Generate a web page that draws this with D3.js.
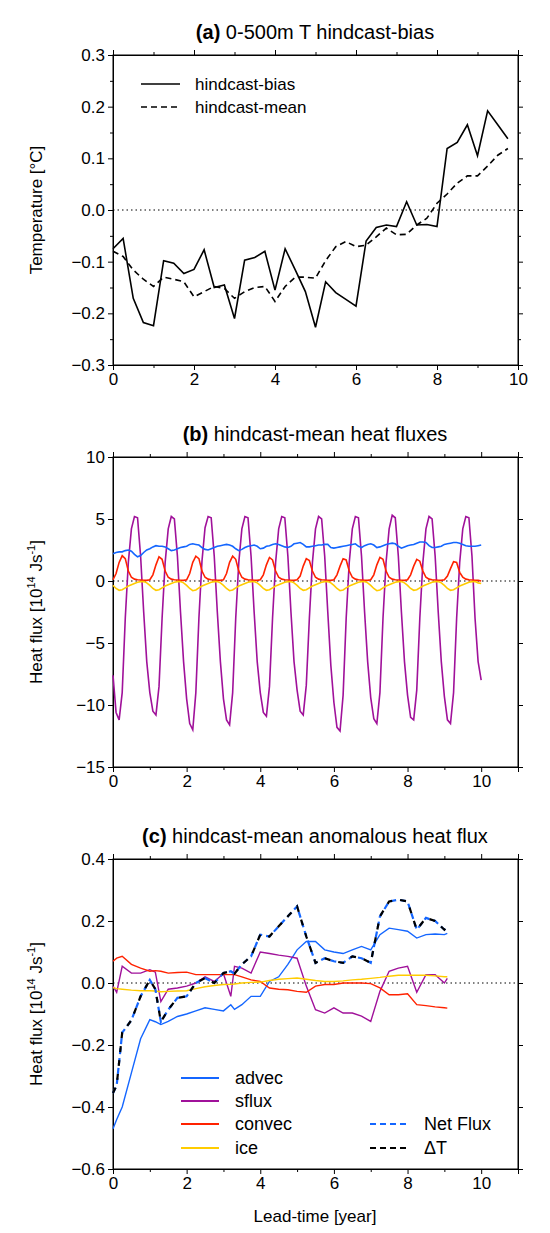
<!DOCTYPE html>
<html><head><meta charset="utf-8">
<script src="https://cdn.jsdelivr.net/npm/d3@7"></script>
<style>body{margin:0;background:#fff}text{font-family:"Liberation Sans",Arial,sans-serif}</style>
</head><body><svg width="550" height="1233"></svg>
<script>
// panel (a): quarterly lead times
var leadA = [0,0.25,0.5,0.75,1,1.25,1.5,1.75,2,2.25,2.5,2.75,3,3.25,3.5,3.75,4,4.25,4.5,4.75,5,5.25,5.5,5.75,6,6.25,6.5,6.75,7,7.25,7.5,7.75,8,8.25,8.5,8.75,9,9.25,9.5,9.75];
var biasA = [-0.075,-0.055,-0.171,-0.218,-0.224,-0.098,-0.103,-0.123,-0.115,-0.077,-0.150,-0.145,-0.210,-0.097,-0.092,-0.080,-0.155,-0.075,-0.116,-0.158,-0.227,-0.139,-0.160,-0.173,-0.186,-0.060,-0.034,-0.029,-0.032,0.016,-0.029,-0.028,-0.032,0.119,0.131,0.165,0.105,0.192,0.165,0.138];
var meanA = [-0.08,-0.09,-0.116,-0.134,-0.148,-0.130,-0.134,-0.139,-0.168,-0.158,-0.148,-0.152,-0.171,-0.158,-0.150,-0.148,-0.177,-0.148,-0.130,-0.130,-0.132,-0.098,-0.071,-0.061,-0.071,-0.068,-0.052,-0.035,-0.048,-0.047,-0.029,-0.016,0.013,0.031,0.052,0.066,0.066,0.085,0.106,0.119];

// panel (b): monthly values, 10 years + final month
var advecB = [2.2,2.3,2.35,2.35,2.45,2.5,2.4,2.15,1.95,2.05,2.3,2.5,
  2.6,2.75,2.85,2.8,2.8,2.75,2.6,2.45,2.5,2.6,2.7,2.75,
  2.8,2.95,3.0,2.95,2.9,2.7,2.55,2.5,2.6,2.7,2.8,2.85,
  2.9,2.95,2.9,2.8,2.6,2.45,2.55,2.7,2.8,2.85,2.9,2.8,
  2.6,2.65,2.8,2.85,2.95,3.0,2.95,2.85,2.75,2.7,2.8,3.0,
  3.05,3.1,2.95,2.75,2.75,2.8,2.85,2.9,2.9,2.95,2.95,2.7,
  2.65,2.7,2.75,2.8,2.85,2.9,2.95,3.0,2.8,2.7,2.85,2.95,
  3.0,2.9,2.7,2.75,2.85,2.95,3.0,3.05,3.0,2.8,2.65,2.75,
  2.85,2.9,2.95,3.05,3.15,3.15,3.1,2.85,2.7,2.7,2.75,2.8,
  2.95,3.0,3.05,3.1,3.1,3.05,2.95,2.85,2.8,2.8,2.8,2.85,2.9];
var sfluxB = [-7.6,-10.6,-11.2,-9.0,-3.0,1.5,4.2,5.2,5.1,2.0,-2.5,-6.5,
  -9.0,-10.5,-10.8,-8.5,-3.0,1.5,4.2,5.2,5.0,2.0,-2.5,-6.5,
  -9.5,-11.5,-12.0,-9.0,-3.0,1.6,4.3,5.2,5.1,2.0,-2.5,-6.5,
  -9.5,-11.2,-11.6,-9.0,-3.0,1.5,4.2,5.2,5.1,2.0,-2.5,-6.5,
  -9.0,-10.6,-10.9,-8.5,-3.0,1.5,4.2,5.2,5.1,2.0,-2.5,-6.5,
  -8.8,-10.5,-10.8,-8.4,-3.0,1.5,4.2,5.2,5.0,2.0,-2.5,-6.8,
  -9.8,-11.8,-12.1,-9.2,-3.0,1.5,4.2,5.2,5.1,2.0,-2.5,-6.5,
  -9.4,-11.1,-11.5,-9.0,-3.0,1.5,4.2,5.3,5.1,2.0,-2.5,-6.5,
  -9.2,-11.0,-11.2,-8.8,-3.0,1.5,4.2,5.2,5.0,2.0,-2.5,-6.5,
  -9.3,-11.2,-11.5,-9.0,-3.0,1.5,4.2,5.2,5.1,2.0,-3.0,-6.5,-8.0];
var convecB = [0.1,0.6,1.5,2.05,1.8,0.8,0.3,0.15,0.1,0.08,0.05,0.05,
  0.1,0.5,1.3,1.95,1.75,0.8,0.3,0.15,0.1,0.08,0.05,0.05,
  0.1,0.6,1.5,2.0,1.8,0.8,0.3,0.15,0.1,0.08,0.05,0.05,
  0.1,0.6,1.5,2.0,1.75,0.8,0.3,0.15,0.1,0.08,0.05,0.05,
  0.1,0.5,1.3,1.9,1.7,0.8,0.3,0.15,0.1,0.08,0.05,0.05,
  0.1,0.4,1.2,1.8,1.65,0.8,0.3,0.15,0.1,0.08,0.05,0.05,
  0.1,0.5,1.2,1.8,1.7,0.8,0.3,0.15,0.1,0.08,0.05,0.05,
  0.1,0.5,1.3,1.9,1.75,0.8,0.3,0.15,0.1,0.08,0.05,0.05,
  0.1,0.5,1.2,1.75,1.6,0.8,0.3,0.15,0.1,0.08,0.05,0.05,
  0.1,0.4,1.0,1.55,1.5,0.7,0.3,0.15,0.1,0.08,0.05,0.05,0.0];
var iceB = [-0.35,-0.6,-0.75,-0.7,-0.55,-0.4,-0.3,-0.2,-0.1,-0.05,-0.05,-0.15,
  -0.35,-0.6,-0.75,-0.7,-0.55,-0.4,-0.3,-0.2,-0.1,-0.05,-0.05,-0.15,
  -0.35,-0.6,-0.78,-0.72,-0.55,-0.4,-0.3,-0.2,-0.1,-0.05,-0.05,-0.15,
  -0.35,-0.6,-0.78,-0.72,-0.55,-0.4,-0.3,-0.2,-0.1,-0.05,-0.05,-0.15,
  -0.35,-0.6,-0.75,-0.7,-0.55,-0.4,-0.3,-0.2,-0.1,-0.05,-0.05,-0.15,
  -0.35,-0.6,-0.75,-0.7,-0.55,-0.4,-0.3,-0.2,-0.1,-0.05,-0.05,-0.15,
  -0.35,-0.6,-0.78,-0.72,-0.55,-0.4,-0.3,-0.2,-0.1,-0.05,-0.05,-0.15,
  -0.35,-0.6,-0.78,-0.72,-0.55,-0.4,-0.3,-0.2,-0.1,-0.05,-0.05,-0.15,
  -0.35,-0.6,-0.75,-0.7,-0.55,-0.4,-0.3,-0.2,-0.1,-0.05,-0.05,-0.15,
  -0.35,-0.6,-0.75,-0.7,-0.55,-0.4,-0.3,-0.2,-0.1,-0.05,-0.05,-0.15,-0.2];

// panel (c): lead times and anomalous fluxes
var leadC = [0,0.1,0.25,0.5,0.75,1,1.15,1.3,1.5,1.75,2,2.25,2.5,2.75,3,3.2,3.3,3.5,3.75,4,4.25,4.5,4.75,5,5.25,5.5,5.75,6,6.25,6.5,6.75,7,7.25,7.5,7.75,8,8.25,8.5,8.75,9,9.08];
var advecC = [-0.47,-0.44,-0.40,-0.29,-0.18,-0.118,-0.125,-0.134,-0.124,-0.108,-0.10,-0.09,-0.08,-0.085,-0.09,-0.07,-0.085,-0.07,-0.043,-0.043,0.005,0.02,0.06,0.107,0.134,0.134,0.107,0.10,0.095,0.107,0.118,0.107,0.156,0.177,0.172,0.167,0.145,0.156,0.158,0.156,0.16];
var sfluxC = [-0.01,-0.03,0.054,0.032,0.032,0.043,0.035,-0.06,-0.02,-0.016,-0.01,0.0,0.02,0.005,0.03,-0.043,0.054,0.048,0.032,0.10,0.095,0.09,0.086,0.08,-0.01,-0.086,-0.097,-0.08,-0.097,-0.097,-0.107,-0.124,-0.027,0.038,0.048,0.054,-0.03,0.027,0.027,0.0,0.015];
var convecC = [0.07,0.08,0.086,0.06,0.048,0.038,0.04,0.038,0.032,0.034,0.035,0.027,0.027,0.027,0.027,0.027,0.027,0.02,0.01,0.005,-0.016,-0.02,-0.022,-0.027,-0.03,-0.01,-0.005,-0.005,0.0,0.0,0.0,-0.002,-0.016,-0.038,-0.038,-0.035,-0.07,-0.073,-0.077,-0.08,-0.081];
var iceC = [-0.015,-0.018,-0.02,-0.023,-0.025,-0.025,-0.026,-0.028,-0.027,-0.026,-0.025,-0.018,-0.012,-0.008,-0.005,-0.004,-0.003,0.0,0.002,0.003,0.008,0.012,0.014,0.016,0.012,0.008,0.005,0.005,0.007,0.01,0.012,0.015,0.018,0.022,0.025,0.025,0.025,0.025,0.023,0.02,0.02];
var netC = [-0.355,-0.33,-0.16,-0.12,-0.043,0.01,-0.02,-0.125,-0.086,-0.048,-0.043,0.0,0.016,0.0,0.032,0.038,0.03,0.06,0.086,0.156,0.15,0.183,0.215,0.247,0.15,0.065,0.08,0.07,0.065,0.086,0.08,0.065,0.215,0.263,0.269,0.263,0.172,0.21,0.2,0.172,0.185];

var ticksA = [-0.3,-0.2,-0.1,0.0,0.1,0.2,0.3];
var ticksB = [-15,-10,-5,0,5,10];
var ticksC = [-0.6,-0.4,-0.2,0.0,0.2,0.4];
var ticksX = [0,2,4,6,8,10];

var svg = d3.select("svg");
var left = 113, right = 518;

function monthly(n) { return d3.range(n).map(function (i) { return i / 12; }); }

function panel(o) {
    var x = d3.scaleLinear().domain([0, o.xmax]).range([left, right]);
    var y = d3.scaleLinear().domain(o.ydom).range([o.bottom, o.top]);
    var g = svg.append("g");
    var fmt = o.fmt;
    // axes, ticks outward on all four sides
    g.append("g").attr("transform", "translate(0," + o.bottom + ")")
     .call(d3.axisBottom(x).tickValues(ticksX).tickSize(5).tickFormat(d3.format("d")));
    g.append("g").attr("transform", "translate(0," + o.top + ")")
     .call(d3.axisTop(x).tickValues(ticksX).tickSize(5).tickFormat(""));
    g.append("g").attr("transform", "translate(" + left + ",0)")
     .call(d3.axisLeft(y).tickValues(o.yticks).tickSize(5).tickFormat(fmt));
    g.append("g").attr("transform", "translate(" + right + ",0)")
     .call(d3.axisRight(y).tickValues(o.yticks).tickSize(5).tickFormat(""));
    var minor = d3.range(1, o.xmax + 1, 2);
    g.append("g").attr("transform", "translate(0," + o.bottom + ")")
     .call(d3.axisBottom(x).tickValues(minor).tickSize(3).tickFormat(""));
    g.append("g").attr("transform", "translate(0," + o.top + ")")
     .call(d3.axisTop(x).tickValues(minor).tickSize(3).tickFormat(""));
    if (o.yminor) {
        g.append("g").attr("transform", "translate(" + left + ",0)")
         .call(d3.axisLeft(y).tickValues(o.yminor).tickSize(3).tickFormat(""));
        g.append("g").attr("transform", "translate(" + right + ",0)")
         .call(d3.axisRight(y).tickValues(o.yminor).tickSize(3).tickFormat(""));
    }
    g.selectAll(".domain").attr("stroke", "#000");
    g.selectAll(".tick line").attr("stroke", "#000");
    g.selectAll(".tick text").attr("font-size", 17).attr("fill", "#000")
     .style("font-family", "Liberation Sans, Arial, sans-serif");
    g.append("rect").attr("x", left).attr("y", o.top).attr("width", right - left)
     .attr("height", o.bottom - o.top).attr("fill", "none").attr("stroke", "#000");
    g.append("line").attr("x1", left).attr("x2", right).attr("y1", y(0)).attr("y2", y(0))
     .attr("stroke", "#000").attr("stroke-width", 1).attr("stroke-dasharray", "1.5,3");
    // title
    var t = svg.append("text").attr("x", 315).attr("y", o.top - 16).attr("text-anchor", "middle")
       .attr("font-size", 20);
    t.append("tspan").attr("font-weight", "bold").text(o.tag);
    t.append("tspan").text(" " + o.title);
    // y label
    var yl = svg.append("text").attr("transform", "translate(42," + ((o.top + o.bottom) / 2) + ") rotate(-90)")
       .attr("text-anchor", "middle").attr("font-size", 17);
    o.ylabel(yl);
    return { x: x, y: y, g: g };
}

function draw(p, xs, ys, color, width, dash) {
    var line = d3.line().x(function (d, i) { return p.x(xs[i]); }).y(function (d) { return p.y(d); });
    p.g.append("path").datum(ys).attr("d", line).attr("fill", "none")
       .attr("stroke", color).attr("stroke-width", width).attr("stroke-dasharray", dash || null);
}

function fluxLabel(t) {
    t.append("tspan").text("Heat flux [10");
    t.append("tspan").attr("font-size", 11).attr("dy", -7).text("14");
    t.append("tspan").attr("dy", 7).text(" Js");
    t.append("tspan").attr("font-size", 11).attr("dy", -7).text("-1");
    t.append("tspan").attr("dy", 7).text("]");
}

// (a)
var pa = panel({ top: 55, bottom: 365, xmax: 10, ydom: [-0.3, 0.3], yticks: ticksA,
    yminor: [-0.25,-0.15,-0.05,0.05,0.15,0.25], fmt: d3.format(".1f"),
    tag: "(a)", title: "0-500m T hindcast-bias",
    ylabel: function (t) { t.text("Temperature [°C]"); } });
draw(pa, leadA, biasA, "#000", 1.6);
draw(pa, leadA, meanA, "#000", 1.6, "6,4");
[["hindcast-bias", null], ["hindcast-mean", "6,4"]].forEach(function (d, i) {
    var yy = 84 + i * 23;
    svg.append("line").attr("x1", 141).attr("x2", 180).attr("y1", yy).attr("y2", yy)
       .attr("stroke", "#000").attr("stroke-width", 1.6).attr("stroke-dasharray", d[1]);
    svg.append("text").attr("x", 195).attr("y", yy + 6).attr("font-size", 17).text(d[0]);
});

// (b)
var pb = panel({ top: 457, bottom: 767, xmax: 11, ydom: [-15, 10], yticks: ticksB,
    fmt: d3.format("d"), tag: "(b)", title: "hindcast-mean heat fluxes", ylabel: fluxLabel });
var mB = monthly(121);
draw(pb, mB, sfluxB, "#a0119a", 1.6);
draw(pb, mB, advecB, "#1466ff", 1.6);
draw(pb, mB, convecB, "#ff2200", 1.6);
draw(pb, mB, iceB, "#ffcc00", 1.6);

// (c)
var pc = panel({ top: 859, bottom: 1169, xmax: 11, ydom: [-0.6, 0.4], yticks: ticksC,
    fmt: d3.format(".1f"), tag: "(c)", title: "hindcast-mean anomalous heat flux", ylabel: fluxLabel });
draw(pc, leadC, advecC, "#1466ff", 1.4);
draw(pc, leadC, sfluxC, "#a0119a", 1.4);
draw(pc, leadC, convecC, "#ff2200", 1.4);
draw(pc, leadC, iceC, "#ffcc00", 1.4);
draw(pc, leadC, netC, "#1466ff", 2.2, "6,4");
draw(pc, leadC, netC, "#000", 2.2, "6,8");
var legC = [["advec", "#1466ff", null, 181, 1078], ["sflux", "#a0119a", null, 181, 1101],
            ["convec", "#ff2200", null, 181, 1124], ["ice", "#ffcc00", null, 181, 1148],
            ["Net Flux", "#1466ff", "6,4", 370, 1124], ["\u0394T", "#000", "6,4", 370, 1148]];
legC.forEach(function (d) {
    svg.append("line").attr("x1", d[3]).attr("x2", d[3] + 38).attr("y1", d[4]).attr("y2", d[4])
       .attr("stroke", d[1]).attr("stroke-width", 2).attr("stroke-dasharray", d[2]);
    svg.append("text").attr("x", d[3] + 54).attr("y", d[4] + 6).attr("font-size", 18).text(d[0]);
});
svg.append("text").attr("x", 315).attr("y", 1222).attr("text-anchor", "middle")
   .attr("font-size", 17).text("Lead-time [year]");
</script></body></html>
